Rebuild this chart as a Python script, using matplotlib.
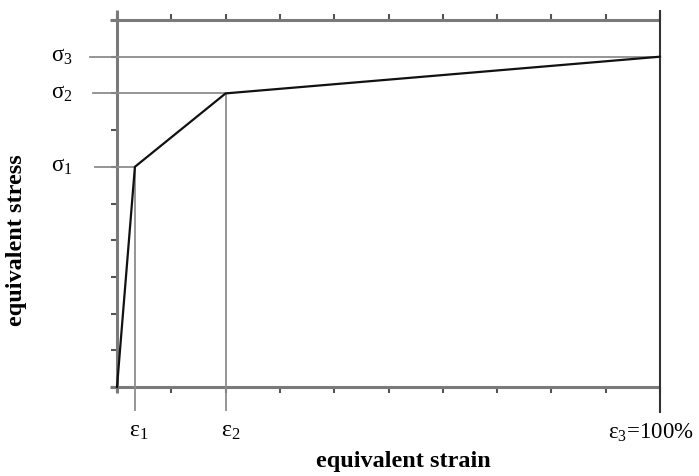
import matplotlib
matplotlib.use("Agg")
import matplotlib.pyplot as plt

plt.rcParams['font.family'] = ['Liberation Serif', 'DejaVu Serif']
plt.rcParams['mathtext.fontset'] = 'custom'
plt.rcParams['mathtext.rm'] = 'Liberation Serif'
plt.rcParams['mathtext.it'] = 'Liberation Serif'

# bilinear hardening curve (strain in %, stress in arbitrary units)
strain_pts = [0.0, 3.3, 20.0, 100.0]
stress_pts = [0.0, 6.0, 8.0, 9.0]

eps_vals = [3.3, 20.0, 100.0]
sig_vals = [6.0, 8.0, 9.0]
eps_labels = [r'$\mathrm{ε}_1$', r'$\mathrm{ε}_2$', r'$\mathrm{ε}_3$=100%']
sig_labels = [r'$\mathrm{σ}_1$', r'$\mathrm{σ}_2$', r'$\mathrm{σ}_3$']

x_ticks = list(range(0, 101, 10))
y_ticks = list(range(0, 11))

W, H = 699, 476
fig = plt.figure(figsize=(W / 100, H / 100), dpi=100)
ax = fig.add_axes([117 / W, 1 - 387 / H, (660 - 117) / W, (387 - 20) / H])
ax.set_xlim(0, 100)
ax.set_ylim(0, 10)
for s in ax.spines.values():
    s.set_visible(False)

axis_grey = '#7a7a7a'
guide_grey = '#8c8c8c'

# frame lines (extend slightly past the corners)
ax.plot([0, 0], [-0.15, 10.27], color=axis_grey, lw=2.2, clip_on=False, solid_capstyle='butt')
ax.plot([-1.3, 100], [0, 0], color=axis_grey, lw=2.2, clip_on=False, solid_capstyle='butt')
ax.plot([-1.3, 100], [10, 10], color=axis_grey, lw=2.2, clip_on=False, solid_capstyle='butt')
ax.plot([100, 100], [-0.7, 10.27], color='#333333', lw=1.5, clip_on=False, solid_capstyle='butt')

# ticks
ax.set_xticks(x_ticks)
ax.set_yticks(y_ticks)
ax.tick_params(axis='x', which='both', direction='out', length=4, width=1.5,
               color='#555555', top=True, bottom=True, labelbottom=False, labeltop=False)
ax.tick_params(axis='y', which='both', direction='out', length=4, width=1.5,
               color='#555555', left=True, right=False, labelleft=False)

# guide lines for the characteristic points
ax.plot([eps_vals[0]] * 2, [-0.63, sig_vals[0]], color=guide_grey, lw=1.3, clip_on=False)
ax.plot([eps_vals[1]] * 2, [-0.63, sig_vals[1]], color=guide_grey, lw=1.3, clip_on=False)
ax.plot([-4.0, eps_vals[0]], [sig_vals[0]] * 2, color=guide_grey, lw=1.3, clip_on=False)
ax.plot([-4.4, eps_vals[1]], [sig_vals[1]] * 2, color=guide_grey, lw=1.3, clip_on=False)
ax.plot([-5.0, eps_vals[2]], [sig_vals[2]] * 2, color=guide_grey, lw=1.3, clip_on=False)

# stress-strain curve
ax.plot(strain_pts, stress_pts, color='#111111', lw=1.6, clip_on=False)

# point labels
for s, lab in zip(sig_vals, sig_labels):
    ax.text(-10.1, s, lab, ha='center', va='center', fontsize=16.5, clip_on=False)
ax.text(eps_vals[0] + 0.7, -1.2, eps_labels[0], ha='center', va='center', fontsize=17, clip_on=False)
ax.text(eps_vals[1] + 1.0, -1.2, eps_labels[1], ha='center', va='center', fontsize=17, clip_on=False)
ax.text(98.3, -1.25, eps_labels[2], ha='center', va='center', fontsize=16.5, clip_on=False)

fig.text(403 / W, 1 - 462 / H, 'equivalent strain', ha='center', va='center',
         fontsize=17.5, fontweight='bold')
fig.text(17 / W, 1 - 240 / H, 'equivalent stress', ha='center', va='center',
         rotation=90, fontsize=17.5, fontweight='bold')

fig.savefig('out.png', dpi=100)
